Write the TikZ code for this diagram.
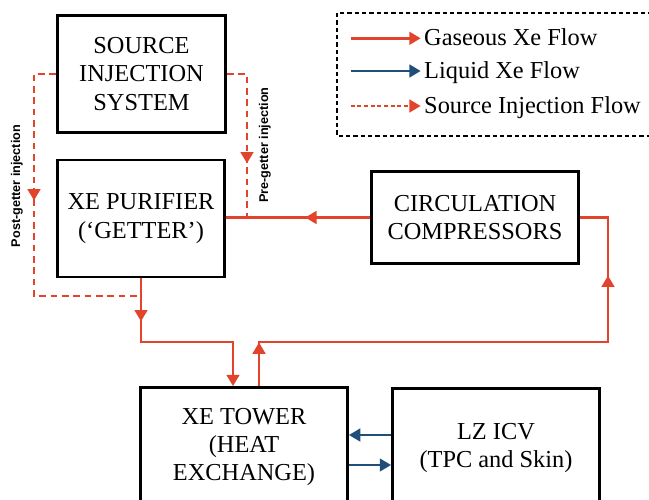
\documentclass[tikz,border=0pt]{standalone}
\usepackage{fontspec}
\setmainfont{Liberation Serif}
\newfontfamily\lblfont{Liberation Sans}
\usetikzlibrary{arrows.meta}
\usetikzlibrary{decorations.markings}
\definecolor{gasred}{RGB}{225,68,43}
\definecolor{liqblue}{RGB}{31,78,121}
\tikzset{
  >={Triangle[length=0.34cm,width=0.38cm]},
  flowtip/.style={postaction={decorate},decoration={markings,
    mark=at position #1 with {\arrow{>}}}},
  flowtips/.style 2 args={postaction={decorate},decoration={markings,
    mark=at position #1 with {\arrow{>}},
    mark=at position #2 with {\arrow{>}}}}
}

\begin{document}
\begin{tikzpicture}[x=0.03cm,y=-0.03cm]
\tikzstyle{every node}=[font=\fontsize{20.8}{24.3}\selectfont,align=center,inner sep=0pt]
\tikzstyle{unit}=[draw,line width=0.085cm]
\tikzstyle{gas}=[draw=gasred,line width=0.075cm]
\tikzstyle{liq}=[draw=liqblue,line width=0.07cm]
\tikzstyle{inj}=[draw=gasred,line width=0.075cm,dash pattern=on 0.2cm off 0.14cm]
\tikzstyle{lbl}=[font=\lblfont\bfseries\fontsize{10.8}{13}\selectfont]
\tikzstyle{legtxt}=[anchor=west,text height=15pt,text depth=2.2pt]
\useasboundingbox (0,0) rectangle (649,499);
\clip (0,0) rectangle (649,499);
% units
\node[unit,minimum width=5.04cm,minimum height=3.51cm] (src) at (141.5,74) {SOURCE\\INJECTION\\SYSTEM};
\node[unit,minimum width=5.01cm,minimum height=3.51cm] (pur) at (141,218.5) {XE PURIFIER\\(‘GETTER’)};
\node[unit,minimum width=6.21cm,minimum height=2.76cm] (comp) at (475,217.5) {CIRCULATION\\COMPRESSORS};
\node[unit,minimum width=6.21cm,minimum height=3.57cm] (tower) at (244,447) {XE TOWER\\(HEAT\\EXCHANGE)};
\node[unit,minimum width=6.21cm,minimum height=3.57cm] (icv) at (496,448) {LZ ICV\\(TPC and Skin)};
% gas loop
\coordinate (up) at (259,342);
\coordinate (rt) at (608,342);
\coordinate (dn) at (233,342);
\draw[gas,flowtip=0.45] (comp.west) -- (comp.west -| pur.east);
\draw[gas,flowtips={0.08}{0.842}] (tower.north -| up) -- (up) -- (rt) |- (comp.east);
\draw[gas,flowtip=0.215,->] (pur.south) |- (dn) -- (tower.north -| dn);
% source injection
\coordinate (pg) at (34,296);
\coordinate (pre) at (247,218);
\draw[inj,flowtip=0.423] (src.west) -| (pg) -- (pg -| pur.south);
\draw[inj,flowtip=0.667] (src.east) -| (pre);
\node[lbl,rotate=90] (postlbl) at (17,186) {Post-getter injection};
\node[lbl,rotate=90] (prelbl) at (265,145) {Pre-getter injection};
% liquid
\draw[liq,->] (icv.west |- 0,435) -- (tower.east |- 0,435);
\draw[liq,->] (tower.east |- 0,465) -- (icv.west |- 0,465);
% legend
\draw[line width=0.06cm,dash pattern=on 0.13cm off 0.09cm] (337,13) rectangle (665,136);
\node[legtxt] (lg1) at (424,38.3) {Gaseous Xe Flow};
\node[legtxt] (lg2) at (424,71) {Liquid Xe Flow};
\node[legtxt] (lg3) at (424,106) {Source Injection Flow};
\draw[gas,->] ([xshift=-2.2cm]lg1.west) -- ([xshift=-0.1cm]lg1.west);
\draw[liq,line width=0.075cm,->] ([xshift=-2.2cm]lg2.west) -- ([xshift=-0.1cm]lg2.west);
\draw[gas,dash pattern=on 0.12cm off 0.08cm,->] ([xshift=-2.2cm]lg3.west) -- ([xshift=-0.1cm]lg3.west);
\end{tikzpicture}
\end{document}
